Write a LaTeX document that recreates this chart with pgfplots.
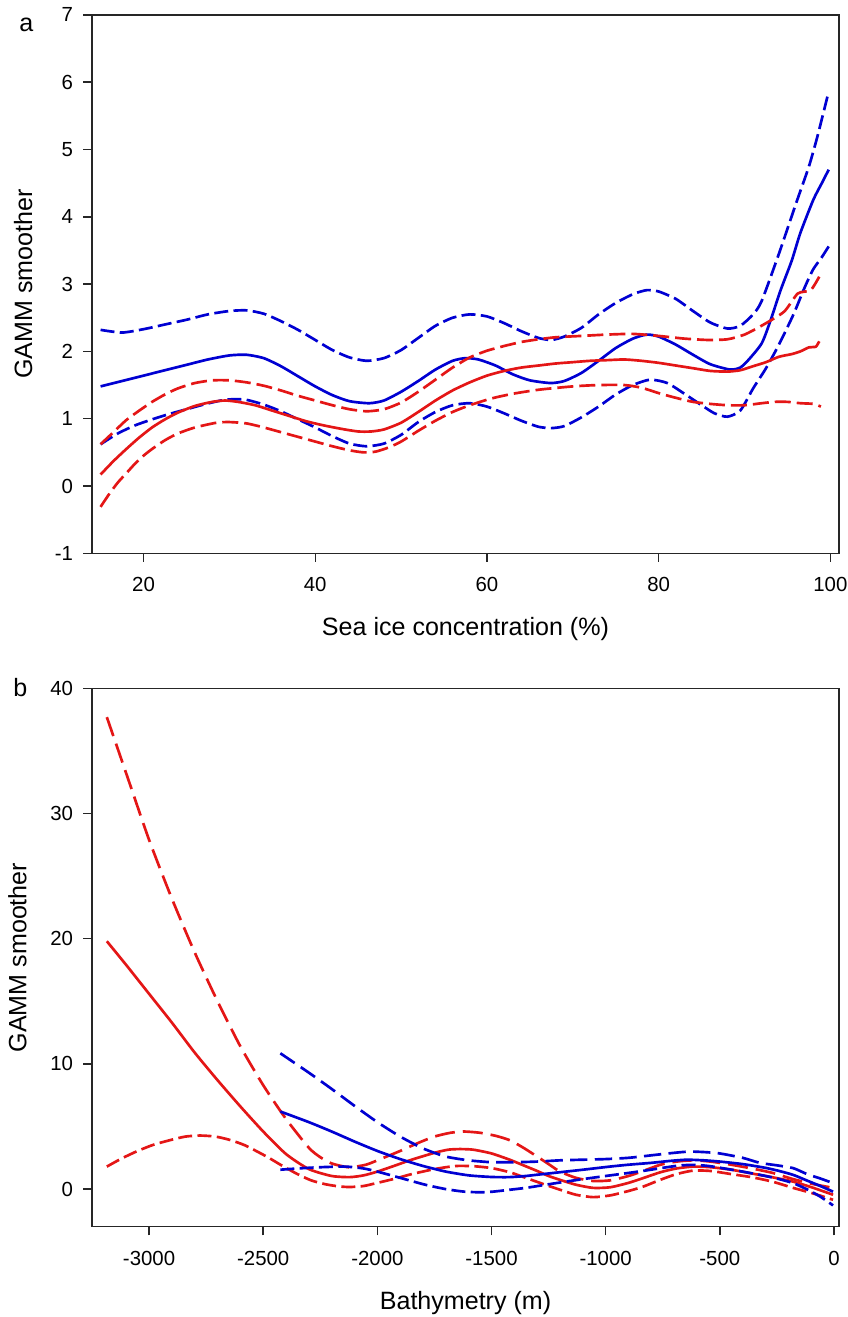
\documentclass[border=0pt]{standalone}
\usepackage{pgfplots}
\pgfplotsset{compat=1.18}
\usepackage{fontspec}
\setmainfont{Liberation Sans}
\definecolor{cblue}{RGB}{0,0,210}
\definecolor{cred}{RGB}{228,22,22}
\newcommand{\labfont}{\fontsize{18.8}{22}\selectfont}
\pgfplotsset{
 gamm/.style={
  scale only axis, width=560.25pt, height=403.76pt,
  axis line style={black!85, line width=1.1pt},
  tick style={black!85, line width=1.1pt},
  tick align=outside, major tick length=6.5pt,
  xtick pos=lower, ytick pos=left,
  minor tick num=0,
  /pgf/number format/assume math mode=true,
  /pgf/number format/1000 sep={},
  ticklabel style={font=\fontsize{15.3}{18}\selectfont},
  yticklabel style={anchor=east, inner sep=0pt},
  xticklabel style={anchor=north, inner sep=0pt},
  yticklabel shift=7.5pt,
  xticklabel shift=11.5pt,
  every axis x label/.style={at={(axis description cs:0.5,-0.1536)}, anchor=base, font=\labfont},
  clip mode=individual,
 },
 sol/.style={line width=2pt, smooth, tension=0.4, no marks},
 sd/.style={sol, dash pattern=on 10.5pt off 4pt},
 rd/.style={sol, dash pattern=on 12pt off 4.5pt},
 ld/.style={sol, dash pattern=on 15pt off 6pt},
 md/.style={sol, dash pattern=on 13pt off 5.5pt},
}
\begin{document}
\begin{tikzpicture}
\path[use as bounding box] (0,0) rectangle (636pt,987.75pt);
% ---------------- panel a ----------------
\begin{axis}[gamm, at={(69pt,572.78pt)}, anchor=south west,
  xmin=14, xmax=101, ymin=-1, ymax=7,
  xtick={20,40,60,80,100}, ytick={-1,0,1,2,3,4,5,6,7},
  xlabel={Sea ice concentration (\%)}, ylabel={GAMM smoother},
  every axis y label/.style={at={(axis description cs:-0.0803,0.5)}, rotate=90, anchor=base, font=\labfont},
]
% blue upper
\addplot[sd, cblue] coordinates {(15,2.32)(17.5,2.28)(20,2.33)(22.5,2.40)(25,2.47)(27.5,2.55)(30,2.60)(32,2.61)(34,2.56)(36,2.45)(38,2.32)(40,2.17)(42,2.02)(44,1.91)(46,1.86)(48,1.90)(50,2.02)(52,2.20)(54,2.38)(56,2.50)(58,2.55)(60,2.52)(62,2.42)(64,2.30)(66,2.20)(67.5,2.17)(69,2.22)(71,2.35)(73,2.55)(75,2.72)(77,2.85)(78.6,2.91)(80,2.89)(82,2.78)(84,2.60)(86,2.43)(88,2.34)(89.5,2.38)(91,2.55)(92,2.75)(94,3.45)(96,4.2)(97.5,4.75)(98.5,5.2)(99.8,5.86)};
% blue solid
\addplot[sol, cblue] coordinates {(15,1.48)(17.5,1.56)(20,1.64)(22.5,1.72)(25,1.80)(27.5,1.88)(30,1.94)(32,1.95)(34,1.90)(36,1.78)(38,1.63)(40,1.48)(42,1.35)(44,1.26)(46.3,1.23)(48,1.27)(50,1.40)(52,1.56)(54,1.73)(56,1.86)(57.5,1.90)(59,1.88)(61,1.79)(63,1.66)(65,1.57)(67.4,1.53)(69,1.56)(71,1.68)(73,1.86)(75,2.05)(77,2.19)(78.6,2.25)(80,2.22)(82,2.10)(84,1.95)(86,1.81)(88.3,1.73)(89.5,1.76)(90.5,1.88)(92,2.12)(93,2.45)(94.2,2.91)(95.5,3.35)(96.5,3.76)(98,4.25)(99,4.50)(99.8,4.70)};
% blue lower
\addplot[sd, cblue] coordinates {(15,0.62)(17,0.78)(19,0.90)(21,0.99)(23,1.07)(25,1.14)(27,1.21)(29,1.27)(30.5,1.29)(32,1.28)(34,1.21)(36,1.11)(38,0.99)(40,0.87)(42,0.74)(44,0.63)(46,0.59)(48,0.63)(50,0.76)(52,0.95)(54,1.10)(56,1.20)(58,1.23)(60,1.18)(62,1.08)(64,0.97)(66,0.88)(67.5,0.86)(69,0.89)(71,1.02)(73,1.18)(75,1.36)(77,1.50)(79,1.58)(81,1.53)(83,1.37)(85,1.20)(86.5,1.08)(88,1.03)(89.5,1.12)(91,1.45)(92.5,1.75)(94,2.10)(95.7,2.55)(97,2.95)(98,3.22)(99,3.40)(99.8,3.56)};
% red solid
\addplot[sol, cred] coordinates {(15,0.17)(16.5,0.37)(18,0.55)(19.5,0.72)(21,0.87)(22.5,0.99)(24,1.09)(26,1.19)(28,1.25)(29.5,1.27)(31,1.25)(33,1.20)(35,1.12)(37,1.04)(39,0.96)(41,0.90)(43,0.85)(45,0.81)(46.5,0.81)(48,0.84)(50,0.94)(52,1.10)(54,1.27)(56,1.42)(58,1.54)(60,1.64)(62,1.71)(64,1.76)(66,1.79)(68,1.82)(70,1.84)(72,1.86)(74,1.87)(76,1.88)(78,1.86)(80,1.83)(82,1.79)(84,1.75)(86,1.71)(88,1.70)(89.5,1.72)(91,1.78)(92.5,1.84)(94,1.92)(95.5,1.96)(96.5,2.0)(97.5,2.06)(98.3,2.07)(98.7,2.15)};
% red upper
\addplot[rd, cred] coordinates {(15,0.62)(16.5,0.80)(18,0.98)(19.5,1.12)(21,1.25)(22.5,1.36)(24,1.45)(26,1.53)(28,1.57)(30,1.57)(32,1.54)(34,1.49)(36,1.42)(38,1.34)(40,1.27)(42,1.20)(44,1.14)(46,1.11)(48,1.14)(50,1.24)(52,1.40)(54,1.58)(56,1.76)(58,1.91)(60,2.01)(62,2.08)(64,2.14)(66,2.18)(68,2.21)(71,2.23)(74,2.25)(77,2.26)(80,2.23)(83,2.19)(85.7,2.17)(88,2.18)(90,2.25)(92.1,2.39)(94.6,2.59)(96.2,2.86)(97.7,2.91)(98.7,3.11)};
% red lower
\addplot[rd, cred] coordinates {(15,-0.31)(16,-0.12)(17,0.05)(18,0.19)(19,0.33)(20,0.45)(21,0.55)(22.5,0.68)(24,0.78)(26,0.87)(28.5,0.94)(30,0.95)(32,0.93)(34,0.87)(36,0.80)(38,0.73)(40,0.66)(42,0.59)(44,0.53)(45.6,0.50)(47,0.51)(48.5,0.57)(50,0.66)(52,0.82)(54,0.97)(56,1.10)(58,1.20)(60.5,1.30)(63,1.37)(66,1.43)(70,1.48)(73,1.50)(76,1.50)(78,1.46)(80,1.38)(82,1.31)(84,1.25)(86,1.22)(88,1.20)(90,1.20)(92,1.23)(93.5,1.25)(95,1.25)(96.5,1.23)(98,1.22)(98.9,1.18)};
\node[anchor=base, font=\labfont] at (axis description cs:-0.0880,0.9697) {a};
\end{axis}
% ---------------- panel b ----------------
\begin{axis}[gamm, at={(69pt,67.73pt)}, anchor=south west,
  xmin=-3250, xmax=22, ymin=-3, ymax=40,
  xtick={-3000,-2500,-2000,-1500,-1000,-500,0}, ytick={0,10,20,30,40},
  xlabel={Bathymetry (m)}, ylabel={GAMM smoother},
  every axis y label/.style={at={(axis description cs:-0.0877,0.5)}, rotate=90, anchor=base, font=\labfont},
]
% red upper (long dash)
\addplot[ld, cred] coordinates {(-3185,37.7)(-3100,33.2)(-3000,27.9)(-2900,23.2)(-2800,18.9)(-2700,15.0)(-2600,11.4)(-2500,8.3)(-2400,5.6)(-2300,3.3)(-2250,2.55)(-2200,2.05)(-2126,1.75)(-2050,1.95)(-1980,2.45)(-1900,3.05)(-1820,3.7)(-1750,4.2)(-1680,4.5)(-1620,4.6)(-1550,4.5)(-1480,4.25)(-1419,3.9)(-1360,3.3)(-1300,2.6)(-1250,2.0)(-1200,1.4)(-1130,0.9)(-1055,0.65)(-980,0.7)(-900,1.05)(-836,1.45)(-760,1.95)(-690,2.2)(-617,2.3)(-540,2.2)(-450,1.95)(-360,1.65)(-270,1.3)(-179,0.8)(-90,0.4)(-4,0.1)};
% red solid
\addplot[sol, cred] coordinates {(-3185,19.8)(-3100,17.9)(-3000,15.6)(-2900,13.3)(-2800,10.9)(-2700,8.7)(-2600,6.6)(-2500,4.6)(-2400,2.8)(-2300,1.6)(-2200,1.05)(-2120,0.96)(-2060,1.1)(-2000,1.4)(-1920,1.9)(-1850,2.35)(-1750,2.9)(-1690,3.15)(-1638,3.2)(-1580,3.15)(-1500,2.85)(-1419,2.34)(-1360,1.9)(-1300,1.45)(-1250,1.05)(-1200,0.74)(-1130,0.35)(-1055,0.1)(-980,0.15)(-900,0.5)(-836,0.88)(-760,1.35)(-690,1.65)(-617,1.8)(-540,1.75)(-450,1.55)(-360,1.25)(-270,0.95)(-179,0.6)(-90,0.1)(-4,-0.45)};
% red lower
\addplot[sd, cred] coordinates {(-3185,1.8)(-3120,2.45)(-3050,3.05)(-2980,3.55)(-2900,3.95)(-2840,4.2)(-2777,4.28)(-2710,4.2)(-2650,3.95)(-2580,3.5)(-2485,2.6)(-2420,1.9)(-2350,1.2)(-2290,0.7)(-2230,0.4)(-2170,0.22)(-2120,0.17)(-2060,0.25)(-2000,0.5)(-1920,0.85)(-1850,1.2)(-1750,1.6)(-1680,1.8)(-1638,1.86)(-1570,1.82)(-1500,1.68)(-1420,1.35)(-1350,0.9)(-1280,0.45)(-1200,-0.05)(-1130,-0.45)(-1055,-0.64)(-980,-0.5)(-900,-0.15)(-836,0.2)(-760,0.75)(-690,1.2)(-617,1.48)(-540,1.45)(-450,1.2)(-360,0.95)(-270,0.6)(-179,0.1)(-90,-0.35)(-4,-0.85)};
% blue upper
\addplot[md, cblue] coordinates {(-2425,10.85)(-2300,9.3)(-2200,8.0)(-2100,6.65)(-2000,5.35)(-1900,4.2)(-1800,3.25)(-1700,2.6)(-1600,2.3)(-1500,2.15)(-1400,2.15)(-1300,2.2)(-1200,2.3)(-1100,2.35)(-1000,2.4)(-900,2.5)(-800,2.7)(-700,2.9)(-632,3.0)(-560,2.95)(-500,2.85)(-400,2.5)(-325,2.1)(-250,1.9)(-179,1.68)(-118,1.2)(-60,0.85)(-4,0.48)};
% blue solid
\addplot[sol, cblue] coordinates {(-2425,6.2)(-2300,5.35)(-2200,4.6)(-2100,3.8)(-2000,3.05)(-1900,2.4)(-1800,1.85)(-1700,1.4)(-1600,1.1)(-1500,0.97)(-1420,0.96)(-1350,1.05)(-1300,1.15)(-1200,1.35)(-1100,1.55)(-982,1.8)(-900,1.95)(-800,2.1)(-720,2.25)(-646,2.35)(-570,2.3)(-500,2.2)(-400,2.0)(-300,1.7)(-240,1.45)(-179,1.14)(-120,0.7)(-60,0.25)(-4,-0.2)};
% blue lower
\addplot[sd, cblue] coordinates {(-2425,1.55)(-2350,1.65)(-2250,1.75)(-2140,1.8)(-2060,1.65)(-2000,1.4)(-1900,0.9)(-1790,0.35)(-1700,0.0)(-1620,-0.2)(-1550,-0.25)(-1493,-0.2)(-1420,-0.05)(-1350,0.1)(-1280,0.3)(-1200,0.53)(-1100,0.8)(-1000,1.05)(-909,1.27)(-820,1.5)(-750,1.7)(-680,1.88)(-617,1.94)(-550,1.85)(-480,1.65)(-400,1.4)(-300,1.05)(-240,0.8)(-179,0.48)(-120,0.0)(-60,-0.6)(-4,-1.3)};
\node[anchor=base, font=\labfont] at (axis description cs:-0.096,0.9844) {b};
\end{axis}
\end{tikzpicture}
\end{document}
